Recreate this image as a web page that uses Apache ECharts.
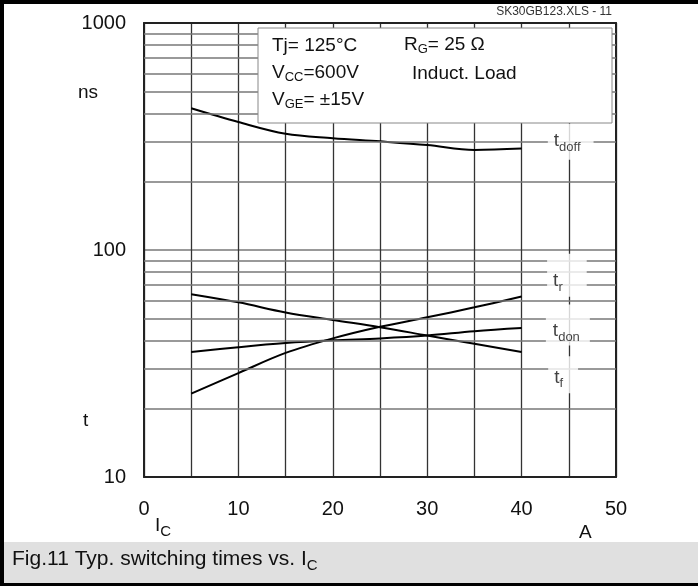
<!DOCTYPE html>
<html><head><meta charset="utf-8">
<script src="https://cdn.jsdelivr.net/npm/echarts@6/dist/echarts.min.js"></script>
<style>html,body{margin:0;padding:0;background:#fff}#c{width:698px;height:586px}</style>
</head><body><div id="c"></div><script>
// ---- data ----
const currents = [5, 10, 15, 20, 25, 30, 35, 40];            // I_C in A
const tdoff = [421, 366, 325, 311, 301, 290, 276, 280];      // ns
const tr    = [23.3, 28.7, 35.2, 40.8, 45.9, 50.5, 55.9, 62.4];
const tf    = [63.9, 58.8, 53.1, 49.2, 45.7, 42.0, 38.6, 35.5];
const tdon  = [35.5, 37.3, 38.9, 40.0, 40.8, 42.0, 43.9, 45.3];
const minorGridValues = [20, 30, 40, 50, 60, 70, 80, 90, 200, 300, 400, 500, 600, 700, 800, 900];
const curveLabelNames = ['doff', 'r', 'don', 'f'];
const curveLabelX = [45.2, 44.8, 44.9, 44.4];
const curveLabelY = [300, 77.4, 46.7, 28.2];

const FONT = "'Liberation Sans', Arial, Helvetica, sans-serif";
const chart = echarts.init(document.getElementById('c'), null, {renderer: 'canvas'});

function pairs(ys) { return currents.map((x, i) => [x, ys[i]]); }
function curve(name, ys) {
  return {
    name, type: 'line', data: pairs(ys), smooth: 0.35, showSymbol: false, z: 3,
    lineStyle: {color: '#000', width: 2}, silent: true
  };
}
// white label boxes [top, right, bottom, left]
const pads = {doff: [8, 13, 6, 6], r: [18, 24, 3, 6], don: [17, 10, 2, 7], f: [12, 15, 3, 6]};
// rich styles: main letter and lowered subscript
function richSet(mainSize, subSize, subDrop) {
  return {
    m: {fontSize: mainSize, fontFamily: FONT, color: '#111', fill: '#111', lineHeight: mainSize + 3, verticalAlign: 'top'},
    s: {fontSize: subSize, fontFamily: FONT, color: '#111', fill: '#111', lineHeight: subSize + 1, verticalAlign: 'top', padding: [subDrop, 0, 0, 0]}
  };
}

const option = {
  animation: false,
  backgroundColor: '#fff',
  textStyle: {fontFamily: FONT},
  grid: {left: 144, top: 23, width: 472, height: 454, show: false},
  xAxis: [{
    type: 'value', min: 0, max: 50, interval: 5, position: 'bottom',
    axisLine: {show: true, onZero: false, lineStyle: {color: '#222', width: 2}},
    axisTick: {show: false},
    axisLabel: {
      margin: 22, fontSize: 20, color: '#111', fontFamily: FONT,
      formatter: v => (v % 10 === 0 ? String(v) : '')
    },
    splitLine: {show: true, lineStyle: {color: '#333', width: 1.3}}
  }, {
    type: 'value', min: 0, max: 50, position: 'top',
    axisLine: {show: true, onZero: false, lineStyle: {color: '#222', width: 2}},
    axisTick: {show: false}, axisLabel: {show: false}, splitLine: {show: false}
  }],
  yAxis: [{
    type: 'log', logBase: 10, min: 10, max: 1000, position: 'left',
    axisLine: {show: true, onZero: false, lineStyle: {color: '#222', width: 2}},
    axisTick: {show: false},
    axisLabel: {margin: 18, fontSize: 20, color: '#111', fontFamily: FONT, formatter: v => String(Math.round(v))},
    splitLine: {show: true, lineStyle: {color: '#777', width: 1.5}}
  }, {
    type: 'log', logBase: 10, min: 10, max: 1000, position: 'right',
    axisLine: {show: true, onZero: false, lineStyle: {color: '#222', width: 2}},
    axisTick: {show: false}, axisLabel: {show: false}, splitLine: {show: false}
  }],
  series: [
    {
      type: 'line', data: [], z: 1, silent: true,
      markLine: {
        silent: true, symbol: 'none', animation: false,
        label: {show: false},
        lineStyle: {color: '#777', width: 1.5, type: 'solid'},
        data: minorGridValues.map(v => ({yAxis: v}))
      }
    },
    curve('tdoff', tdoff),
    curve('tr', tr),
    curve('tf', tf),
    curve('tdon', tdon),
    {
      type: 'scatter', z: 6, symbolSize: 1, silent: true,
      itemStyle: {color: 'rgba(0,0,0,0)'},
      data: curveLabelNames.map((n, i) => ({
        value: [curveLabelX[i], curveLabelY[i]],
        label: {
          show: true, position: 'inside', formatter: '{m|t}{s|' + n + '}',
          backgroundColor: '#fff', padding: pads[n],
          rich: richSet(19, 13, 9)
        }
      }))
    }
  ],
  graphic: [
    // outer frame
    {type: 'rect', z: 100, shape: {x: 0, y: 542, width: 698, height: 41}, style: {fill: '#e0e0e0'}},
    {type: 'rect', z: 101, shape: {x: 0, y: 0, width: 698, height: 4}, style: {fill: '#000'}},
    {type: 'rect', z: 101, shape: {x: 0, y: 583, width: 698, height: 3}, style: {fill: '#000'}},
    {type: 'rect', z: 101, shape: {x: 0, y: 0, width: 4, height: 586}, style: {fill: '#000'}},
    {type: 'text', z: 102, left: 12, top: 549, style: {
      text: '{m|Fig.11 Typ. switching times vs. I}{s|C}', rich: richSet(21, 15, 9)
    }},
    // file tag
    {type: 'text', z: 50, right: 86, top: 6, style: {text: 'SK30GB123.XLS - 11', fontSize: 12, fontFamily: FONT, fill: '#333'}},
    // condition box
    {type: 'rect', z: 50, shape: {x: 258, y: 28, width: 354, height: 95}, style: {fill: '#fff', stroke: '#888', lineWidth: 1}},
    {type: 'text', z: 51, left: 272, top: 36, style: {text: 'Tj= 125°C', fontSize: 19, fontFamily: FONT, fill: '#111'}},
    {type: 'text', z: 51, left: 404, top: 35, style: {text: '{m|R}{s|G}{m|= 25 Ω}', rich: richSet(19, 13, 8)}},
    {type: 'text', z: 51, left: 272, top: 63, style: {text: '{m|V}{s|CC}{m|=600V}', rich: richSet(19, 13, 8)}},
    {type: 'text', z: 51, left: 412, top: 64, style: {text: 'Induct. Load', fontSize: 19, fontFamily: FONT, fill: '#111'}},
    {type: 'text', z: 51, left: 272, top: 90, style: {text: '{m|V}{s|GE}{m|= ±15V}', rich: richSet(19, 13, 8)}},
    // axis names
    {type: 'text', z: 51, left: 78, top: 83, style: {text: 'ns', fontSize: 19, fontFamily: FONT, fill: '#111'}},
    {type: 'text', z: 51, left: 83, top: 411, style: {text: 't', fontSize: 19, fontFamily: FONT, fill: '#111'}},
    {type: 'text', z: 51, left: 155, top: 516, style: {text: '{m|I}{s|C}', rich: richSet(19, 15, 8)}},
    {type: 'text', z: 51, left: 579, top: 523, style: {text: 'A', fontSize: 19, fontFamily: FONT, fill: '#111'}}
  ]
};
chart.setOption(option);
</script></body></html>
